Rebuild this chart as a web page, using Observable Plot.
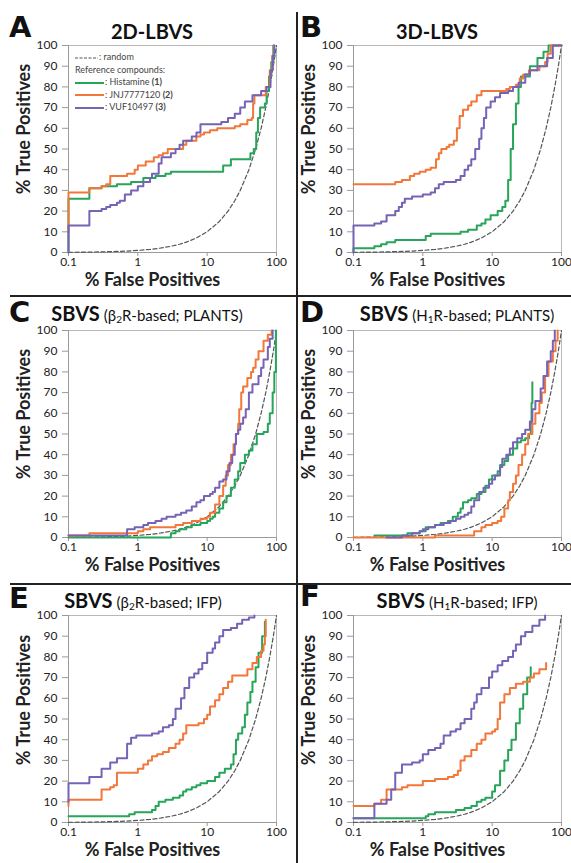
<!DOCTYPE html>
<html><head><meta charset="utf-8">
<script src="https://cdn.jsdelivr.net/npm/d3@7"></script>
<script src="https://cdn.jsdelivr.net/npm/@observablehq/plot@0.6"></script>
<style>
body{margin:0;background:#fff;}
#fig{position:relative;width:571px;height:863px;overflow:hidden;font-family:Lato,"Open Sans",sans-serif;color:#222;background:#fff;}
.panel{position:absolute;}
.panel svg{overflow:visible;}
.letter{position:absolute;font-family:"DejaVu Sans",sans-serif;font-weight:bold;font-size:29px;line-height:1;color:#111;}
.title{position:absolute;transform:translate(-50%,-50%);white-space:nowrap;line-height:1;color:#111;}
.title b{font-size:20px;}
.title span{font-size:15px;}
.title sub{font-size:10px;vertical-align:-2px;}
.rule{position:absolute;background:#222;}
.legend{position:absolute;left:75px;top:51px;font-size:9px;color:#444;line-height:12.5px;white-space:nowrap;}
.legend svg{vertical-align:middle;margin-right:1px;}
</style></head><body><div id="fig"></div>
<script>
// ---- axis ticks ----
const xTicks = [0.1, 1, 10, 100];
const yTicks = [0, 10, 20, 30, 40, 50, 60, 70, 80, 90, 100];

// ---- random (dashed) reference ----
const randomFP = [0.1, 0.2, 0.3, 0.5, 0.7, 1, 1.5, 2, 3, 4, 5, 7, 10, 15, 20, 25, 30, 40, 50, 60, 70, 80, 90, 100];
const randomTP = [0.1, 0.2, 0.3, 0.5, 0.7, 1, 1.5, 2, 3, 4, 5, 7, 10, 15, 20, 25, 30, 40, 50, 60, 70, 80, 90, 100];

// ---- series names & colours ----
const seriesNames = ["Histamine (1)", "JNJ7777120 (2)", "VUF10497 (3)"];
const seriesColors = ["#27a55a", "#f2773a", "#7663b6"];

// ---- A: 2D-LBVS  [%FP, %TP] ----
const A_histamine = [[0.1,0],[0.1,26],[0.2,31],[0.3,32],[0.5,33],[0.8,34],[1.2,36],[1.8,37],[2.5,38],[3,39],[15,39],[17,42],[22,45],[38,45],[42,48],[47,50],[51,58],[54,65],[58,70],[68,72],[72,78],[78,85],[84,92],[90,100]];
const A_jnj = [[0.1,10],[0.1,29],[0.2,31],[0.3,32],[0.35,33],[0.4,37],[0.7,38],[0.9,40],[1.0,42],[1.3,44],[1.7,46],[2.0,47],[2.3,48],[2.7,50],[4,50],[4.5,52],[5,54],[7,56],[8,57],[9,58],[11,59],[14,60],[25,61],[30,62],[38,64],[44,65],[46,72],[48,76],[62,76],[70,80],[80,88],[87,95],[92,100]];
const A_vuf = [[0.1,0],[0.1,13],[0.2,20],[0.3,21],[0.35,22],[0.4,23],[0.5,24],[0.55,25],[0.65,28],[0.8,30],[1.0,32],[1.2,34],[1.5,36],[1.6,38],[2.0,43],[2.2,46],[3,48],[3.5,50],[4,52],[4.5,54],[6,56],[7,58],[8,62],[15,62],[16,63],[20,65],[25,67],[30,70],[35,73],[45,76],[60,78],[72,80],[82,88],[88,95],[93,100]];

// ---- B: 3D-LBVS ----
const B_histamine = [[0.1,0],[0.1,2],[0.2,3],[0.25,4],[0.3,5],[0.4,6],[1.0,6],[1.1,8],[1.3,9],[3,9],[3.5,10],[4.5,11],[6,13],[7,14],[8,16],[9.5,18],[12,20],[14,22],[15.5,25],[17,35],[18.5,50],[20,62],[22,72],[24,80],[26,85],[35,90],[45,94],[55,97],[65,100],[100,100]];
const B_jnj = [[0.1,33],[0.4,34],[0.5,35],[0.65,37],[0.75,38],[0.9,39],[1.1,40],[1.3,41],[1.55,45],[1.7,48],[1.85,50],[2.2,51],[2.4,52],[2.8,54],[3.1,60],[3.4,66],[3.8,69],[4.5,71],[5,73],[6,76],[7,78],[15,78],[16,79],[18,80],[22,81],[25,84],[28,86],[34,88],[40,88],[48,90],[58,92],[63,96],[70,100],[100,100]];
const B_vuf = [[0.1,0],[0.1,13],[0.2,14],[0.25,15],[0.3,18],[0.4,20],[0.45,22],[0.5,24],[0.55,26],[0.7,27],[1.0,28],[1.3,29],[1.5,31],[1.7,33],[2.0,34],[3,35],[3.5,37],[4,40],[4.5,42],[5,45],[5.7,50],[6.5,55],[7,60],[7.6,65],[8.2,70],[9.5,73],[11,75],[13,77],[17,78],[20,80],[24,82],[30,86],[35,88],[45,90],[58,90],[62,94],[75,100],[100,100]];

// ---- C: SBVS (b2R-based; PLANTS) ----
const C_histamine = [[0.1,0],[2.8,0],[3,2],[3.5,3],[4,4],[5,5],[6,6],[8,7],[10,8],[11,9],[12,10],[13,12],[15,14],[17,17],[19,20],[22,24],[25,28],[28,32],[30,36],[35,40],[40,42],[45,45],[52,50],[65,51],[75,55],[80,60],[88,70],[93,80],[98,100]];
const C_jnj = [[0.1,1],[0.2,2],[1.0,3],[1.2,4],[1.5,5],[3,5],[3.5,6],[4.5,7],[6,8],[8,9],[10,10],[11,12],[13,16],[15,20],[17,25],[18.5,30],[20,35],[22,40],[24,45],[26,50],[28,55],[29,62],[31,70],[33,73],[38,77],[43,80],[46,82],[50,86],[55,90],[65,95],[75,98],[85,100]];
const C_vuf = [[0.1,1],[0.7,1],[0.7,4],[0.9,5],[1.2,6],[1.4,7],[1.8,8],[2.2,9],[2.6,10],[3.5,11],[4.2,12],[5,13],[6,15],[7,17],[8,18],[9,20],[11,21],[12,22],[13,24],[15,27],[17,28],[19,32],[21,36],[23,40],[25,45],[26,50],[28,52],[30,55],[33,58],[36,62],[40,70],[45,74],[55,78],[60,82],[65,86],[75,92],[80,96],[88,100]];

// ---- D: SBVS (H1R-based; PLANTS) ----
const D_histamine = [[0.2,1],[0.5,1],[0.6,2],[0.9,3],[1.1,5],[1.5,6],[1.8,7],[2.3,8],[2.7,10],[3.2,12],[3.5,14],[3.8,17],[4.5,18],[5,19],[6,21],[7,22],[8,25],[9,28],[10,30],[12,32],[13,35],[15,37],[17,40],[20,43],[23,46],[26,47],[30,48],[34,50],[36,55],[37,65],[38,75]];
const D_jnj = [[0.1,0],[1.5,0],[1.5,1],[5.5,1],[5.5,3],[7,5],[8,6],[10,7],[12,8],[13.5,10],[15,14],[17,18],[18,22],[20,26],[22,30],[24,35],[27,40],[30,45],[33,50],[38,55],[42,60],[48,65],[52,70],[58,78],[65,85],[75,90],[82,95],[88,100]];
const D_vuf = [[0.3,0],[0.5,1],[0.7,2],[0.9,3],[1.0,4],[1.2,5],[1.5,6],[2,7],[2.5,8],[3,9],[3.5,10],[4,11],[4.5,12],[5,15],[5.5,18],[6.5,22],[7.5,24],[9,26],[10,28],[11,30],[13,34],[14,38],[16,40],[18,43],[20,46],[23,48],[27,50],[30,52],[35,56],[38,62],[42,66],[50,72],[55,78],[62,85],[70,90],[75,95],[80,100]];

// ---- E: SBVS (b2R-based; IFP) ----
const E_histamine = [[0.1,3],[0.7,3],[0.75,4],[0.9,5],[1.5,5],[1.6,6],[1.8,8],[2,10],[2.5,11],[3.2,12],[4,13],[4.5,15],[5,16],[6,17],[7,18],[8,19],[10,20],[13,22],[15,24],[18,26],[22,28],[24,33],[26,40],[28,43],[32,46],[35,52],[38,58],[42,63],[45,68],[50,75],[55,82],[62,90],[68,97]];
const E_jnj = [[0.1,8],[0.1,11],[0.3,16],[0.4,17],[0.45,18],[0.5,24],[0.9,24],[1.0,26],[1.2,28],[1.4,30],[1.6,32],[1.9,33],[2.3,34],[2.8,36],[3.5,38],[4,40],[4.5,43],[5,47],[7,47],[7.5,48],[9,50],[10,52],[11,56],[13,59],[15,62],[17,65],[20,68],[23,71],[35,71],[38,74],[45,77],[52,80],[60,83],[65,86],[68,90],[70,98]];
const E_vuf = [[0.1,10],[0.1,19],[0.2,22],[0.3,26],[0.4,29],[0.5,31],[0.7,38],[0.8,41],[0.95,42],[1.6,43],[2,44],[2.3,46],[2.8,47],[3.2,50],[3.5,55],[4.2,60],[4.7,65],[5.5,70],[6.5,72],[7.5,74],[8.5,77],[10,82],[12,84],[13,87],[15,90],[17,93],[22,94],[27,96],[32,98],[40,99],[48,100]];

// ---- F: SBVS (H1R-based; IFP) ----
const F_histamine = [[0.1,2],[1.0,2],[1.1,3],[1.2,4],[1.5,5],[2.5,5],[3,6],[4,7],[5,8],[6,10],[7,11],[8,12],[10,15],[11,18],[13,25],[15,30],[17,35],[19,40],[22,48],[25,55],[28,62],[32,70],[36,75]];
const F_jnj = [[0.1,8],[0.2,9],[0.25,11],[0.3,16],[0.5,17],[0.6,18],[1.0,20],[1.5,21],[2.3,22],[2.8,23],[3.2,25],[3.5,30],[4,32],[5,35],[6,38],[7,40],[8,43],[10,44],[11,45],[12,50],[13,58],[15,62],[18,65],[22,67],[28,68],[35,70],[40,72],[48,74],[60,77]];
const F_vuf = [[0.1,2],[0.2,9],[0.3,11],[0.35,16],[0.4,24],[0.5,28],[0.7,29],[0.9,30],[1.0,33],[1.2,35],[1.5,36],[1.8,38],[2.0,42],[2.5,44],[3,45],[3.5,48],[4,50],[5,55],[5.5,58],[6,62],[7,65],[9,70],[10,73],[12,76],[14,78],[17,80],[20,83],[22,86],[26,90],[30,92],[38,95],[48,98],[58,100]];

const randomData = randomFP.map((fp, i) => ({fp, tp: randomTP[i]}));
const fig = document.getElementById("fig");

function makePanel(series, left, top, width, marginRight, ylabDy) {
  const marks = [
    Plot.frame({stroke: "#b8b8b8"}),
    Plot.ruleY([0], {stroke: "#9a9a9a"}),
    Plot.ruleX([0.1], {stroke: "#9a9a9a"}),
    Plot.axisX({ticks: xTicks, tickFormat: d => String(d), tickSize: 4, tickPadding: 1, stroke: "#9a9a9a", fill: "#222", label: null, fontSize: 12}),
    Plot.axisY({ticks: yTicks, tickSize: 6, tickPadding: 5, stroke: "#9a9a9a", fill: "#222", label: null, fontSize: 12}),
    Plot.line(randomData, {x: "fp", y: "tp", stroke: "#555", strokeWidth: 1.2, strokeDasharray: "4,2.5"})
  ];
  series.forEach((s, i) => {
    marks.push(Plot.line(s, {x: d => d[0], y: d => d[1], curve: "step-after", stroke: seriesColors[i], strokeWidth: 2}));
  });
  marks.push(Plot.text(["% False Positives"], {text: d => d, frameAnchor: "bottom", textAnchor: "middle", lineAnchor: "middle", dy: 28, dx: -20, fontWeight: "bold", fontSize: 18, fill: "#222"}));
  marks.push(Plot.text(["% True Positives"], {text: d => d, frameAnchor: "left", textAnchor: "middle", lineAnchor: "middle", rotate: -90, dx: -44, dy: ylabDy, fontWeight: "bold", fontSize: 18, fill: "#222"}));
  const svg = Plot.plot({
    width, height: 290,
    marginLeft: 68, marginRight, marginTop: 45, marginBottom: 38,
    x: {type: "log", domain: [0.1, 100]},
    y: {domain: [0, 100]},
    style: {background: "transparent", overflow: "visible", fontFamily: "Lato, 'Open Sans', sans-serif", fontSize: "12px", color: "#222"},
    marks
  });
  const div = document.createElement("div");
  div.className = "panel";
  div.style.left = left + "px";
  div.style.top = top + "px";
  div.appendChild(svg);
  fig.appendChild(div);
}

makePanel([A_histamine, A_jnj, A_vuf], 0, 0, 285, 9, -20);
makePanel([B_histamine, B_jnj, B_vuf], 285, 0, 286, 10, -20);
makePanel([C_histamine, C_jnj, C_vuf], 0, 285, 285, 9, -20);
makePanel([D_histamine, D_jnj, D_vuf], 285, 285, 286, 10, -20);
makePanel([E_histamine, E_jnj, E_vuf], 0, 570, 285, 9, -19);
makePanel([F_histamine, F_jnj, F_vuf], 285, 570, 286, 10, -19);

function addHTML(html) { fig.insertAdjacentHTML("beforeend", html); }

// dividers
addHTML('<div class="rule" style="left:296px;top:12px;width:2px;height:851px"></div>');
addHTML('<div class="rule" style="left:10px;top:295px;width:561px;height:2px"></div>');
addHTML('<div class="rule" style="left:10px;top:583px;width:561px;height:2px"></div>');

// panel letters
const letters = [["A",9,13],["B",300,13],["C",9,298],["D",300,298],["E",9,584],["F",300,582]];
letters.forEach(([t,l,tp]) => addHTML(`<div class="letter" style="left:${l}px;top:${tp}px">${t}</div>`));

// titles
addHTML('<div class="title" style="left:152px;top:31px"><b>2D-LBVS</b></div>');
addHTML('<div class="title" style="left:437px;top:31px"><b>3D-LBVS</b></div>');
addHTML('<div class="title" style="left:147px;top:313px"><b>SBVS</b> <span>(β<sub>2</sub>R-based; PLANTS)</span></div>');
addHTML('<div class="title" style="left:457px;top:313px"><b>SBVS</b> <span>(H<sub>1</sub>R-based; PLANTS)</span></div>');
addHTML('<div class="title" style="left:143px;top:600px"><b>SBVS</b> <span>(β<sub>2</sub>R-based; IFP)</span></div>');
addHTML('<div class="title" style="left:457px;top:600px"><b>SBVS</b> <span>(H<sub>1</sub>R-based; IFP)</span></div>');

// legend (panel A)
const sw = (c) => `<svg width="29" height="6"><line x1="0" y1="3" x2="29" y2="3" stroke="${c}" stroke-width="2"/></svg>`;
let leg = '<div class="legend">';
leg += `<div><svg width="23" height="6"><line x1="0" y1="3" x2="23" y2="3" stroke="#555" stroke-width="1" stroke-dasharray="3,1.5"/></svg>: random</div>`;
leg += '<div>Reference compounds:</div>';
seriesNames.forEach((n, i) => {
  const m = n.match(/^(.*) (\(\d\))$/);
  leg += `<div>${sw(seriesColors[i])}: ${m[1]} <b>${m[2]}</b></div>`;
});
leg += '</div>';
addHTML(leg);
</script></body></html>
